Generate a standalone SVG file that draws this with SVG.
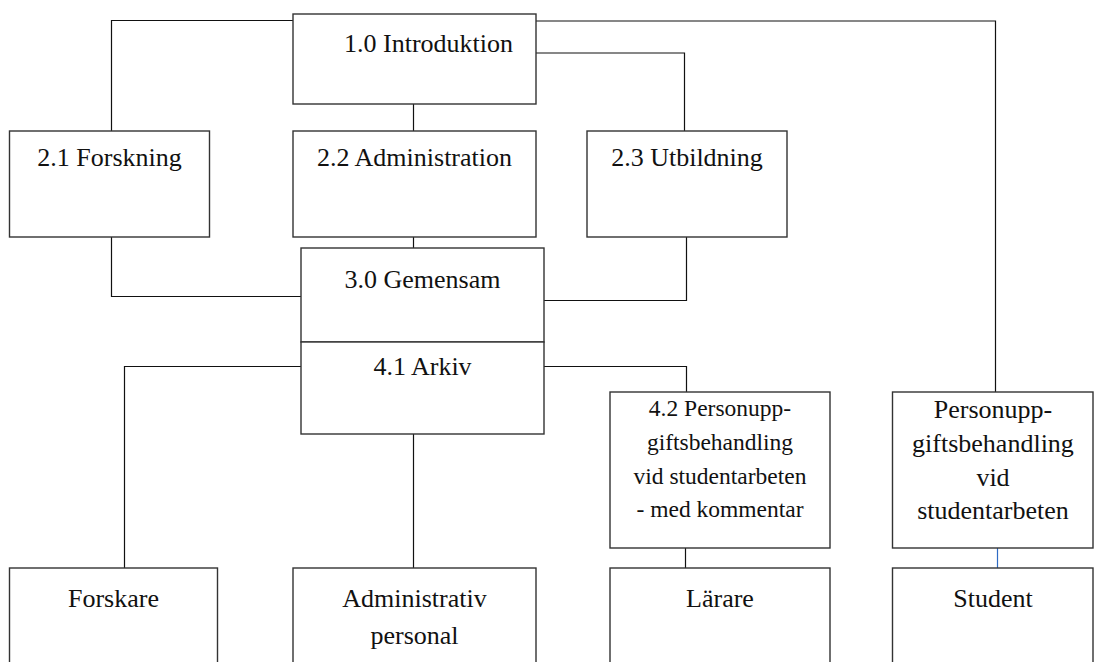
<svg xmlns="http://www.w3.org/2000/svg" width="1099" height="662" viewBox="0 0 1099 662">
<style>
.box{fill:#fff;stroke:#333;stroke-width:1.4}
text{font-family:'Liberation Serif','Tinos','Times New Roman','DejaVu Serif',serif;font-size:26px;fill:#111;text-anchor:middle}
.s{font-size:23.5px}
.c{fill:none;stroke:#111;stroke-width:1.2}
.cb{fill:none;stroke:#2e6bc4;stroke-width:1.2}
</style>
<rect width="1099" height="662" fill="#fff"/>
<g id="connectors">
<path class="c" d="M293 20.5H111.5V131"/>
<path class="c" d="M413.5 104V131"/>
<path class="c" d="M536 21H995.5V392"/>
<path class="c" d="M536 53H684.5V131"/>
<path class="c" d="M111.5 237V296.5H301"/>
<path class="c" d="M413.5 237V248"/>
<path class="c" d="M686.5 237V300.5H544"/>
<path class="c" d="M301 366.5H124.5V568"/>
<path class="c" d="M544 366.5H686.5V392"/>
<path class="c" d="M413.5 434V568"/>
<path class="c" d="M685.5 548V568"/>
<path class="cb" d="M997.5 548V568"/>
</g>
<g id="n-intro"><rect class="box" x="293" y="14" width="243" height="90"/><text x="344" y="52" style="text-anchor:start">1.0 Introduktion</text></g>
<g id="n-forskning"><rect class="box" x="9.5" y="131" width="200" height="106"/><text x="109.5" y="166">2.1 Forskning</text></g>
<g id="n-administration"><rect class="box" x="293" y="131" width="243" height="106"/><text x="414.5" y="166">2.2 Administration</text></g>
<g id="n-utbildning"><rect class="box" x="587" y="131" width="200" height="106"/><text x="687" y="166">2.3 Utbildning</text></g>
<g id="n-gemensam"><rect class="box" x="301" y="248" width="243" height="94"/><text x="422.5" y="288">3.0 Gemensam</text></g>
<g id="n-arkiv"><rect class="box" x="301" y="342" width="243" height="92"/><text x="422.5" y="375">4.1 Arkiv</text></g>
<g id="n-pub-kommentar"><rect class="box" x="610" y="392" width="220" height="156"/><text class="s" x="720" y="416">4.2 Personupp-</text><text class="s" x="720" y="450">giftsbehandling</text><text class="s" x="720" y="484">vid studentarbeten</text><text class="s" x="720" y="517">- med kommentar</text></g>
<g id="n-pub"><rect class="box" x="892.5" y="392" width="200.5" height="156"/><text x="993" y="418">Personupp-</text><text x="993" y="452">giftsbehandling</text><text x="993" y="486">vid</text><text x="993" y="519">studentarbeten</text></g>
<g id="n-forskare"><rect class="box" x="9.5" y="568" width="208" height="110"/><text x="113.5" y="607">Forskare</text></g>
<g id="n-admpersonal"><rect class="box" x="293" y="568" width="243" height="110"/><text x="414.5" y="607">Administrativ</text><text x="414.5" y="644">personal</text></g>
<g id="n-larare"><rect class="box" x="610" y="568" width="220" height="110"/><text x="720" y="607">Lärare</text></g>
<g id="n-student"><rect class="box" x="892.5" y="568" width="200.5" height="110"/><text x="993" y="607">Student</text></g>
</svg>
